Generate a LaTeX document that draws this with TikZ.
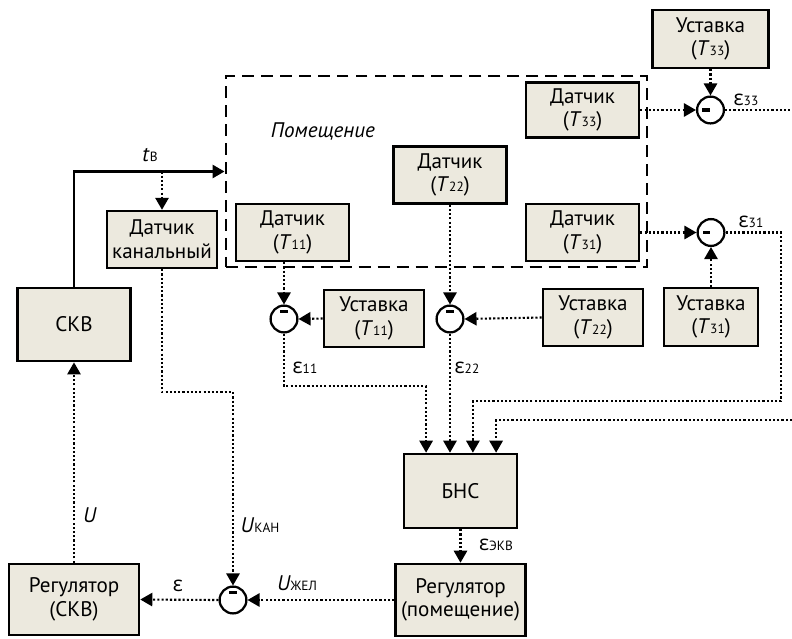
\documentclass[tikz,border=0pt]{standalone}
\usepackage{fontspec}
\setmainfont{PT Sans}
\newfontfamily\grkfont{Open Sans}
\usepackage{xcolor}
\usetikzlibrary{arrows.meta,positioning}

\definecolor{boxfill}{RGB}{236,233,222}
\newcommand{\lo}[1]{{\fontsize{9.5}{10}\selectfont #1}}
\newcommand{\eps}{{\grkfont ε}}

\begin{document}
\begin{tikzpicture}[
  x=0.025cm, y=-0.025cm,
  >={Triangle[length=0.3cm,width=0.33cm]},
  every node/.style={font=\fontsize{15}{16.8}\selectfont},
  block/.style={draw, fill=boxfill, line width=1.8pt, align=center, inner sep=0pt},
  sensor/.style={block, minimum width=2.83cm, minimum height=1.42cm},
  setp/.style={block, minimum width=2.5cm, minimum height=1.43cm},
  ctrl/.style={block, minimum width=3.25cm, minimum height=1.8cm},
  sumc/.style={draw, circle, fill=white, line width=1.6pt, minimum size=0.67cm, inner sep=0pt},
  sig/.style={->, line width=1.5pt, dash pattern=on 1.5pt off 1.5pt},
  air/.style={->, line width=1.6pt},
  lbl/.style={inner sep=0pt}
]
\useasboundingbox (0,0) rectangle (792,639);

% Room
\node (room) [draw, line width=1.9pt, dash pattern=on 8.5pt off 5pt,
              minimum width=10.53cm, minimum height=4.78cm] at (436.5,171.5) {};
\node (roomlbl) [lbl, font=\fontsize{15}{16.8}\selectfont\itshape] at (323,131) {Помещение};

\node (dat33) [sensor, minimum height=1.38cm] at (582.5,110) {Датчик\\(\textit{T}\lo{33})};
\node (dat22) [sensor] at (450,175) {Датчик\\(\textit{T}\lo{22})};
\node (dat11) [sensor] at (292.5,232.5) {Датчик\\(\textit{T}\lo{11})};
\node (dat31) [sensor] at (582.5,232.5) {Датчик\\(\textit{T}\lo{31})};
\node (datk)  [sensor, minimum width=2.75cm] at (162,239.5) {Датчик\\канальный};
\node (skv)   [block, minimum width=2.83cm, minimum height=1.83cm] at (74,324.5) {СКВ};

\node (ust33) [setp, minimum width=2.9cm, minimum height=1.45cm] at (710.5,39) {Уставка\\(\textit{T}\lo{33})};
\node (ust11) [setp] at (374,318.5) {Уставка\\(\textit{T}\lo{11})};
\node (ust22) [setp] at (593,317.5) {Уставка\\(\textit{T}\lo{22})};
\node (ust31) [setp, minimum width=2.35cm, minimum height=1.45cm] at (711,317) {Уставка\\(\textit{T}\lo{31})};

\node (bns)    [block, minimum width=2.83cm, minimum height=1.85cm] at (460.5,491) {БНС};
\node (regp)   [ctrl] at (460.5,600) {Регулятор\\(помещение)};
\node (regskv) [ctrl, minimum height=1.78cm] at (74,599.5) {Регулятор\\(СКВ)};

% Comparators
\node (s33) [sumc] at (710.5,110) {};
\node (s31) [sumc] at (711,232.5) {};
\node (s11) [sumc] at (284,319) {};
\node (s22) [sumc] at (450,319) {};
\node (sb)  [sumc] at (233,600) {};
\foreach \s in {s11,s22,sb}
  \fill ([shift={(-3.6,-9.5)}]\s.center) rectangle +(7.2,3.2);
\foreach \s in {s33,s31}
  \fill ([shift={(-8.2,-1.6)}]\s.center) rectangle +(7.2,3.2);

% Supply air
\draw[air] (skv.north) |- (room.west);
\coordinate (tap) at (datk.north |- room.west);
\node (tlbl) [lbl] at (150,155) {\textit{t}\lo{В}};
\draw[sig] (tap) -- (datk.north);

% Room sensors
\draw[sig] (dat33.east) -- (s33.west);
\draw[sig] (ust33.south) -- (s33.north);
\draw[sig] (dat31.east) -- (s31.west);
\draw[sig] (ust31.north) -- (s31.south);
\draw[sig] (dat11.south -| s11.north) -- (s11.north);
\draw[sig] (ust11.west) -- (s11.east);
\draw[sig] (dat22.south) -- (s22.north);
\draw[sig] (ust22.west) -- (s22.east);

% Errors into BNS
\coordinate (ext) at (792,420);
\coordinate (c31) at (781,401);
\draw[sig] (s11.south) -- ++(0,52.5) -| ([xshift=-0.86cm]bns.north);
\draw[sig] (s22.south) -- (s22.south |- bns.north);
\draw[sig] (s31.east) -| (c31) -| ([xshift=0.31cm]bns.north);
\draw[sig] (ext) -| ([xshift=0.89cm]bns.north);
\draw[sig, -] (s33.east) -- (s33.east -| ext);
\node (e11) [lbl] at (305,368) {\eps\lo{11}};
\node (e22) [lbl] at (467,368) {\eps\lo{22}};
\node (e33) [lbl] at (746,100) {\eps\lo{33}};
\node (e31) [lbl] at (751,222) {\eps\lo{31}};

% Control loop
\draw[sig] (bns.south) -- (regp.north);
\node (eekv) [lbl] at (496,545) {\eps\lo{ЭКВ}};
\draw[sig] (regp.west) -- (sb.east);
\node (ujel) [lbl] at (297,583) {\textit{U}\lo{ЖЕЛ}};
\draw[sig] (datk.south) -- ++(0,123) -| (sb.north);
\node (ukan) [lbl] at (260,525) {\textit{U}\lo{КАН}};
\draw[sig] (sb.west) -- (regskv.east);
\node (elbl) [lbl] at (178,586) {\eps};
\draw[sig] (regskv.north) -- (skv.south);
\node (ulbl) [lbl] at (90,515) {\textit{U}};
\end{tikzpicture}
\end{document}
